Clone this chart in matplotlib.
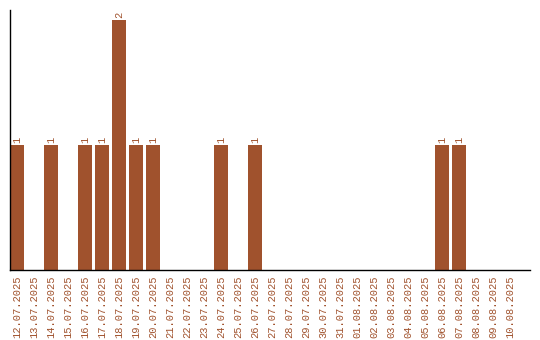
import matplotlib
matplotlib.use("Agg")
import matplotlib.pyplot as plt

dates = ["12.07.2025", "13.07.2025", "14.07.2025", "15.07.2025", "16.07.2025",
         "17.07.2025", "18.07.2025", "19.07.2025", "20.07.2025", "21.07.2025",
         "22.07.2025", "23.07.2025", "24.07.2025", "25.07.2025", "26.07.2025",
         "27.07.2025", "28.07.2025", "29.07.2025", "30.07.2025", "31.07.2025",
         "01.08.2025", "02.08.2025", "03.08.2025", "04.08.2025", "05.08.2025",
         "06.08.2025", "07.08.2025", "08.08.2025", "09.08.2025", "10.08.2025"]
counts = [1, 0, 1, 0, 1, 1, 2, 1, 1, 0, 0, 0, 1, 0, 1,
          0, 0, 0, 0, 0, 0, 0, 0, 0, 0, 1, 1, 0, 0, 0]

COL = "#a0522d"
FONT = "Liberation Mono"

fig = plt.figure(figsize=(5.4, 3.4), dpi=100)
ax = fig.add_axes([10 / 540, 70 / 340, 520 / 540, 260 / 340])
x = list(range(len(dates)))
ax.bar(x, counts, width=0.82, color=COL)
for i, c in enumerate(counts):
    if c:
        ax.text(i, c + 0.02, str(c), rotation=90, ha="center", va="bottom",
                color=COL, fontsize=7.5, family=FONT)
ax.set_xlim(-0.41, 30.18)
ax.set_ylim(0, 2.08)
ax.set_xticks(x)
ax.set_xticklabels(dates, rotation=90, color=COL, fontsize=7.5, family=FONT)
ax.tick_params(axis="x", length=0, pad=4)
ax.set_yticks([])
for s in ("top", "right"):
    ax.spines[s].set_visible(False)
ax.spines["left"].set_linewidth(1)
ax.spines["bottom"].set_linewidth(1)
fig.savefig("out.png", dpi=100)
